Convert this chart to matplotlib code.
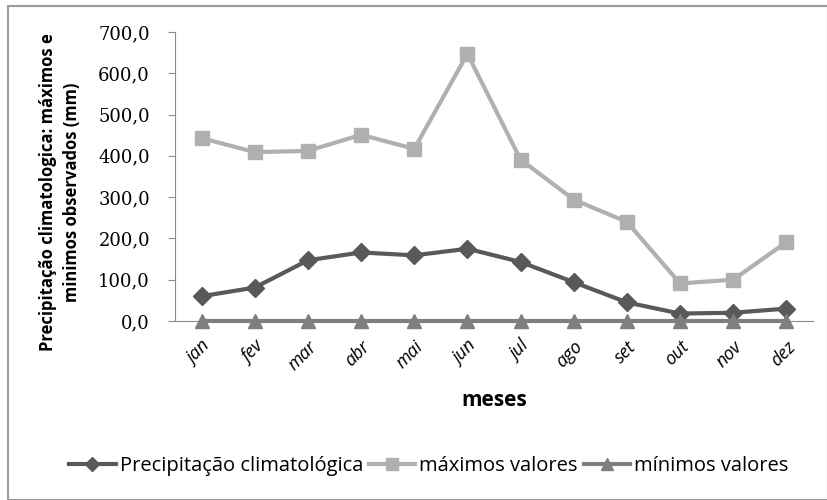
import matplotlib
matplotlib.use("Agg")
import matplotlib.pyplot as plt
from matplotlib.patches import Rectangle

meses = ["jan", "fev", "mar", "abr", "mai", "jun", "jul", "ago", "set", "out", "nov", "dez"]
precip = [60, 81, 147, 166, 159, 175, 143, 94, 45, 18, 20, 30]
maximos = [443, 409, 412, 451, 417, 647, 391, 294, 240, 91, 100, 191]
minimos = [0, 0, 0, 0, 0, 0, 0, 0, 0, 0, 0, 0]
yticks = [0, 100, 200, 300, 400, 500, 600, 700]

SANS = ["Open Sans", "DejaVu Sans"]

fig = plt.figure(figsize=(8.28, 5.0), dpi=100)
fig.patches.append(Rectangle((8/828, 0.0), 1 - 8/828, 1 - 6/500, transform=fig.transFigure,
                             fill=False, edgecolor="#9a9a9a", linewidth=1.5))
ax = fig.add_axes([175/828, 1 - 321/500, (813 - 175)/828, (321 - 32)/500])
x = list(range(len(meses)))

ax.plot(x, precip, color="#595959", lw=3, marker="D", ms=9, label="Precipitação climatológica", zorder=4)
ax.plot(x, maximos, color="#b0b0b0", lw=3, marker="s", ms=10, label="máximos valores", zorder=3)
ax.plot(x, minimos, color="#7f7f7f", lw=3, marker="^", ms=10, label="mínimos valores", zorder=5, clip_on=False)

ax.set_xlim(-0.5, len(meses) - 0.5)
ax.set_ylim(0, 700)
ax.set_yticks(yticks)
ax.set_yticklabels([f"{v:.1f}".replace(".", ",") for v in yticks],
                   fontfamily="DejaVu Serif", fontsize=13)
ax.set_xticks(x)
ax.set_xticklabels(meses, rotation=45, fontstyle="italic", family=SANS,
                   fontsize=13, ha="right", rotation_mode="anchor")
for s in ["top", "right"]:
    ax.spines[s].set_visible(False)
ax.spines["left"].set_color("#8c8c8c")
ax.spines["bottom"].set_color("#8c8c8c")
ax.tick_params(axis="y", length=5, color="#8c8c8c", pad=13)
ax.tick_params(axis="x", length=0, pad=12)

ax.set_xlabel("meses", family=SANS, fontweight="bold", fontsize=15, labelpad=12)
fig.text(60/828, 1 - 192/500, "Precipitação climatologica: máximos e\nminimos observados (mm)",
         rotation=90, ha="center", va="center", family=SANS, fontweight="bold",
         fontsize=12, linespacing=1.45)

fig.legend(loc="center", bbox_to_anchor=(429/828, 1 - 466/500), ncol=3, frameon=False,
           prop={"family": SANS, "size": 14.5}, handlelength=2.3, columnspacing=0.3,
           handletextpad=0.2, markerscale=0.8)

fig.savefig("out.png", dpi=100)
